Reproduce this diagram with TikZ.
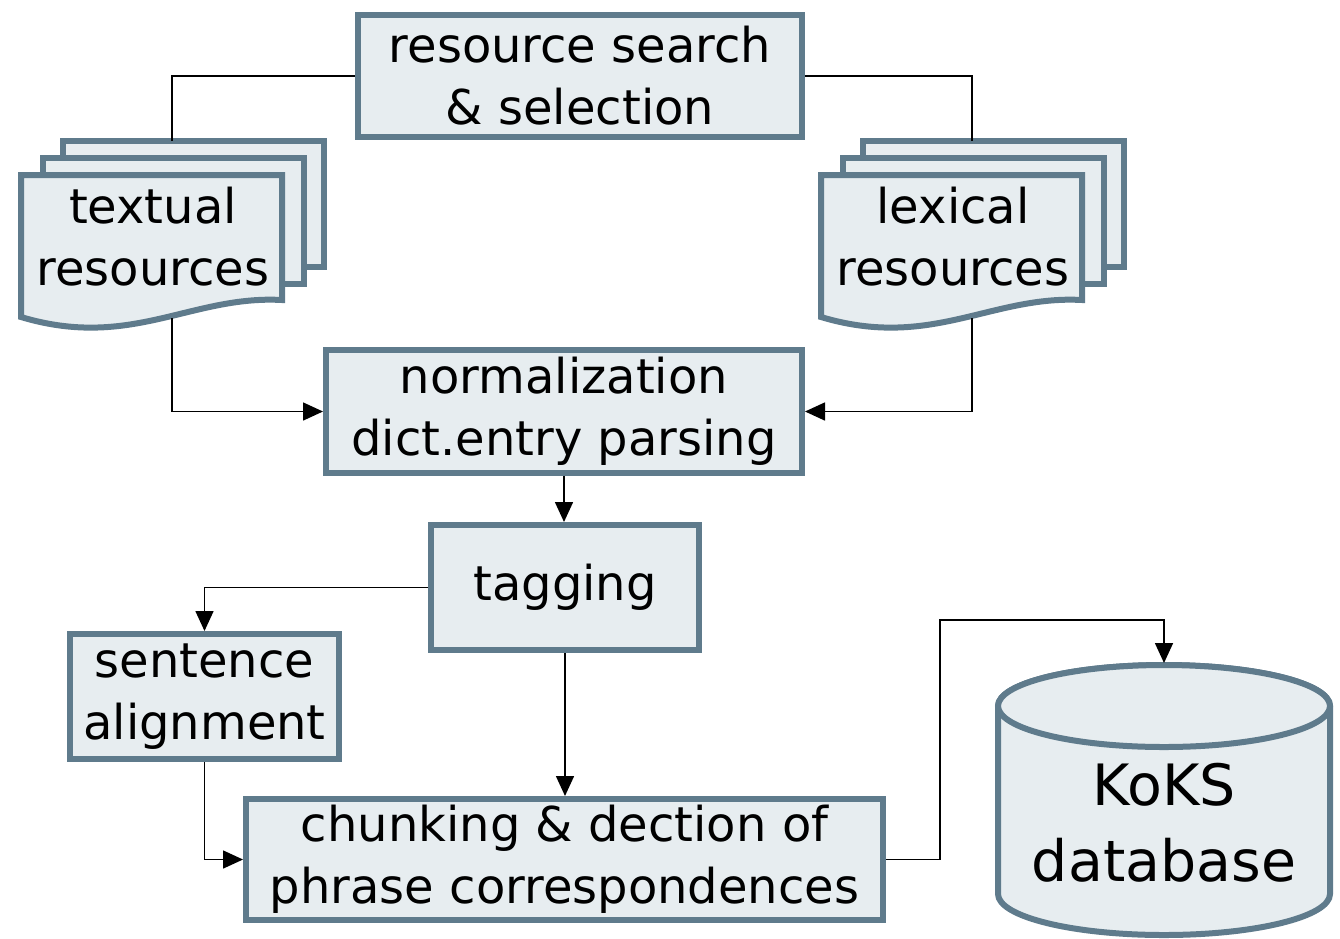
\documentclass[tikz,border=0pt]{standalone}
\usepackage{fontspec}
\setmainfont{DejaVu Sans}
\usetikzlibrary{arrows.meta}
\definecolor{bordc}{RGB}{95,123,140}
\definecolor{fillc}{RGB}{231,237,240}
\begin{document}
\begin{tikzpicture}[x=1pt,y=-1pt,
  shapesty/.style={draw=bordc, fill=fillc, line width=6pt},
  box/.style={shapesty, inner sep=0pt, align=center, font=\fontsize{48}{62}\selectfont},
  lbl/.style={inner sep=0pt, align=center, font=\fontsize{48}{62}\selectfont},
  dblbl/.style={inner sep=0pt, align=center, font=\fontsize{57}{76}\selectfont},
  conn/.style={draw=black, line width=1.6pt},
  arr/.style={conn, -{Triangle[length=20pt,width=18pt]}},
  docstack/.pic={
    \draw[shapesty] (42,-34) rectangle (303,92);
    \draw[shapesty] (22,-17) rectangle (283,109);
    \draw[shapesty] (0,0) -- (261,0) -- (261,125) .. controls (170,120) and (110,175) .. (0,142) -- cycle;
  }]
\useasboundingbox (0,0) rectangle (1340,938);

% boxes
\node[box, minimum width=444pt, minimum height=122pt] (rss) at (580,76) {resource search\\\& selection};
\node[box, minimum width=476pt, minimum height=123pt] (norm) at (564,411.5) {normalization\\dict.entry parsing};
\node[box, minimum width=268pt, minimum height=125pt] (tag) at (565,587.5) {tagging};
\node[box, minimum width=269pt, minimum height=125pt] (sent) at (204.5,696.5) {sentence\\alignment};
\node[box, minimum width=637pt, minimum height=121pt] (chunk) at (564.5,859.5) {chunking \& dection of\\phrase correspondences};

% document stacks
\pic at (21,175) {docstack};
\node[lbl] (textual) at (153,237) {textual\\resources};
\pic at (821,175) {docstack};
\node[lbl] (lexical) at (953,237) {lexical\\resources};
\coordinate (ttop) at (172,141);
\coordinate (tbot) at (172,318);
\coordinate (ltop) at (972,141);
\coordinate (lbot) at (972,318);

% database cylinder
\path[shapesty] (998,706) -- (998,894) arc[start angle=180,end angle=360,x radius=166pt,y radius=41pt]
  -- (1330,706) arc[start angle=0,end angle=180,x radius=166pt,y radius=41pt] -- cycle;
\draw[shapesty] (1164,706) ellipse [x radius=166pt, y radius=41pt];
\node[dblbl] (db) at (1164,823) {KoKS\\database};
\coordinate (dbtop) at (1164,663);
\coordinate (jt) at (940,620);

% connectors
\draw[conn] (rss.west) -| (ttop);
\draw[conn] (rss.east) -| (ltop);
\draw[arr] (tbot) |- (norm.west);
\draw[arr] (lbot) |- (norm.east);
\draw[arr] (norm.south) -- (norm.south |- tag.north);
\draw[arr] (tag.west) -| (sent.north);
\draw[arr] (tag.south) -- (tag.south |- chunk.north);
\draw[arr] (sent.south) |- (chunk.west);
\draw[arr] (chunk.east) -| (jt) -| (dbtop);
\end{tikzpicture}
\end{document}
